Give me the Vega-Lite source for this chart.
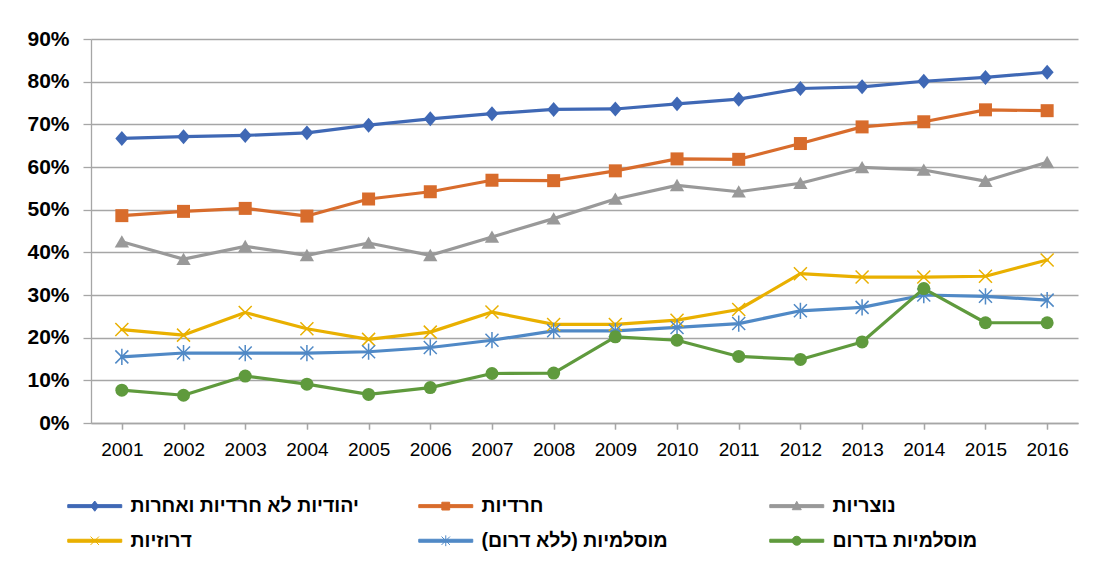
{
  "$schema": "https://vega.github.io/schema/vega-lite/v6.json",
  "width": 987,
  "height": 384,
  "autosize": {"type": "none"},
  "padding": {"left": 91, "top": 39, "right": 21, "bottom": 146},
  "background": "white",
  "data": {"values": [
    {"year":"2001","group":"יהודיות לא חרדיות ואחרות","value":66.7},
    {"year":"2002","group":"יהודיות לא חרדיות ואחרות","value":67.1},
    {"year":"2003","group":"יהודיות לא חרדיות ואחרות","value":67.4},
    {"year":"2004","group":"יהודיות לא חרדיות ואחרות","value":68.0},
    {"year":"2005","group":"יהודיות לא חרדיות ואחרות","value":69.8},
    {"year":"2006","group":"יהודיות לא חרדיות ואחרות","value":71.3},
    {"year":"2007","group":"יהודיות לא חרדיות ואחרות","value":72.5},
    {"year":"2008","group":"יהודיות לא חרדיות ואחרות","value":73.5},
    {"year":"2009","group":"יהודיות לא חרדיות ואחרות","value":73.6},
    {"year":"2010","group":"יהודיות לא חרדיות ואחרות","value":74.8},
    {"year":"2011","group":"יהודיות לא חרדיות ואחרות","value":75.9},
    {"year":"2012","group":"יהודיות לא חרדיות ואחרות","value":78.4},
    {"year":"2013","group":"יהודיות לא חרדיות ואחרות","value":78.8},
    {"year":"2014","group":"יהודיות לא חרדיות ואחרות","value":80.1},
    {"year":"2015","group":"יהודיות לא חרדיות ואחרות","value":81.0},
    {"year":"2016","group":"יהודיות לא חרדיות ואחרות","value":82.2},
    {"year":"2001","group":"חרדיות","value":48.6},
    {"year":"2002","group":"חרדיות","value":49.6},
    {"year":"2003","group":"חרדיות","value":50.3},
    {"year":"2004","group":"חרדיות","value":48.5},
    {"year":"2005","group":"חרדיות","value":52.5},
    {"year":"2006","group":"חרדיות","value":54.2},
    {"year":"2007","group":"חרדיות","value":56.9},
    {"year":"2008","group":"חרדיות","value":56.8},
    {"year":"2009","group":"חרדיות","value":59.1},
    {"year":"2010","group":"חרדיות","value":61.9},
    {"year":"2011","group":"חרדיות","value":61.8},
    {"year":"2012","group":"חרדיות","value":65.5},
    {"year":"2013","group":"חרדיות","value":69.4},
    {"year":"2014","group":"חרדיות","value":70.6},
    {"year":"2015","group":"חרדיות","value":73.4},
    {"year":"2016","group":"חרדיות","value":73.2},
    {"year":"2001","group":"נוצריות","value":42.5},
    {"year":"2002","group":"נוצריות","value":38.4},
    {"year":"2003","group":"נוצריות","value":41.4},
    {"year":"2004","group":"נוצריות","value":39.3},
    {"year":"2005","group":"נוצריות","value":42.2},
    {"year":"2006","group":"נוצריות","value":39.3},
    {"year":"2007","group":"נוצריות","value":43.6},
    {"year":"2008","group":"נוצריות","value":47.9},
    {"year":"2009","group":"נוצריות","value":52.5},
    {"year":"2010","group":"נוצריות","value":55.7},
    {"year":"2011","group":"נוצריות","value":54.2},
    {"year":"2012","group":"נוצריות","value":56.2},
    {"year":"2013","group":"נוצריות","value":59.9},
    {"year":"2014","group":"נוצריות","value":59.3},
    {"year":"2015","group":"נוצריות","value":56.7},
    {"year":"2016","group":"נוצריות","value":61.1},
    {"year":"2001","group":"דרוזיות","value":21.9},
    {"year":"2002","group":"דרוזיות","value":20.6},
    {"year":"2003","group":"דרוזיות","value":25.9},
    {"year":"2004","group":"דרוזיות","value":22.1},
    {"year":"2005","group":"דרוזיות","value":19.6},
    {"year":"2006","group":"דרוזיות","value":21.3},
    {"year":"2007","group":"דרוזיות","value":26.0},
    {"year":"2008","group":"דרוזיות","value":23.1},
    {"year":"2009","group":"דרוזיות","value":23.1},
    {"year":"2010","group":"דרוזיות","value":24.1},
    {"year":"2011","group":"דרוזיות","value":26.6},
    {"year":"2012","group":"דרוזיות","value":35.0},
    {"year":"2013","group":"דרוזיות","value":34.2},
    {"year":"2014","group":"דרוזיות","value":34.2},
    {"year":"2015","group":"דרוזיות","value":34.4},
    {"year":"2016","group":"דרוזיות","value":38.2},
    {"year":"2001","group":"מוסלמיות (ללא דרום)‏","value":15.5},
    {"year":"2002","group":"מוסלמיות (ללא דרום)‏","value":16.4},
    {"year":"2003","group":"מוסלמיות (ללא דרום)‏","value":16.4},
    {"year":"2004","group":"מוסלמיות (ללא דרום)‏","value":16.4},
    {"year":"2005","group":"מוסלמיות (ללא דרום)‏","value":16.7},
    {"year":"2006","group":"מוסלמיות (ללא דרום)‏","value":17.7},
    {"year":"2007","group":"מוסלמיות (ללא דרום)‏","value":19.4},
    {"year":"2008","group":"מוסלמיות (ללא דרום)‏","value":21.6},
    {"year":"2009","group":"מוסלמיות (ללא דרום)‏","value":21.6},
    {"year":"2010","group":"מוסלמיות (ללא דרום)‏","value":22.4},
    {"year":"2011","group":"מוסלמיות (ללא דרום)‏","value":23.3},
    {"year":"2012","group":"מוסלמיות (ללא דרום)‏","value":26.3},
    {"year":"2013","group":"מוסלמיות (ללא דרום)‏","value":27.1},
    {"year":"2014","group":"מוסלמיות (ללא דרום)‏","value":30.0},
    {"year":"2015","group":"מוסלמיות (ללא דרום)‏","value":29.7},
    {"year":"2016","group":"מוסלמיות (ללא דרום)‏","value":28.8},
    {"year":"2001","group":"מוסלמיות בדרום","value":7.7},
    {"year":"2002","group":"מוסלמיות בדרום","value":6.5},
    {"year":"2003","group":"מוסלמיות בדרום","value":11.0},
    {"year":"2004","group":"מוסלמיות בדרום","value":9.1},
    {"year":"2005","group":"מוסלמיות בדרום","value":6.7},
    {"year":"2006","group":"מוסלמיות בדרום","value":8.3},
    {"year":"2007","group":"מוסלמיות בדרום","value":11.6},
    {"year":"2008","group":"מוסלמיות בדרום","value":11.7},
    {"year":"2009","group":"מוסלמיות בדרום","value":20.2},
    {"year":"2010","group":"מוסלמיות בדרום","value":19.4},
    {"year":"2011","group":"מוסלמיות בדרום","value":15.6},
    {"year":"2012","group":"מוסלמיות בדרום","value":14.9},
    {"year":"2013","group":"מוסלמיות בדרום","value":19.0},
    {"year":"2014","group":"מוסלמיות בדרום","value":31.5},
    {"year":"2015","group":"מוסלמיות בדרום","value":23.5},
    {"year":"2016","group":"מוסלמיות בדרום","value":23.5}
  ]},
  "encoding": {
    "y": {
      "field": "value", "type": "quantitative",
      "scale": {"domain": [0, 90], "nice": false, "zero": true},
      "axis": {
        "title": null, "values": [0,10,20,30,40,50,60,70,80,90],
        "labelExpr": "datum.value + '%'",
        "grid": true, "gridColor": "#a6a6a6", "gridWidth": 1.3,
        "domain": true, "domainColor": "#a6a6a6", "domainWidth": 1.3,
        "ticks": true, "tickColor": "#a6a6a6", "tickSize": 8, "tickWidth": 1.3,
        "labelFont": "Liberation Sans", "labelFontSize": 21, "labelFontWeight": "bold",
        "labelColor": "#000000", "labelPadding": 14
      }
    },
    "color": {
      "field": "group", "type": "nominal",
      "scale": {
        "domain": ["יהודיות לא חרדיות ואחרות","חרדיות","נוצריות","דרוזיות","מוסלמיות (ללא דרום)‏","מוסלמיות בדרום"],
        "range": ["#3F68B5","#D86C2C","#999999","#E9B000","#5089C6","#5F9A3D"]
      },
      "legend": {
        "title": null, "orient": "none", "legendX": -27, "legendY": 457,
        "direction": "horizontal",
        "columns": 3, "gridAlign": "all", "columnPadding": 56, "rowPadding": 14,
        "labelFont": "Liberation Sans", "labelFontSize": 19.5, "labelFontWeight": "bold",
        "labelColor": "#000000", "labelLimit": 400, "labelOffset": 26,
        "symbolSize": 144, "symbolStrokeWidth": 1, "symbolOffset": 21,
        "encode": {
          "symbols": {
            "update": {
              "shape": {"signal": "['M-4.5,-0.25H4.5V0.25H-4.5Z M0,-0.85L0.65,0L0,0.85L-0.65,0Z', 'M-4.5,-0.25H4.5V0.25H-4.5Z M-0.65,-0.65H0.65V0.65H-0.65Z', 'M-4.5,-0.25H4.5V0.25H-4.5Z M0,-0.8L0.75,0.6L-0.75,0.6Z', 'M-4.5,-0.25H4.5V0.25H-4.5Z M-0.7,-0.7L0.7,0.7M-0.7,0.7L0.7,-0.7', 'M-4.5,-0.25H4.5V0.25H-4.5Z M-0.7,-0.7L0.7,0.7M-0.7,0.7L0.7,-0.7M0,-0.9V0.9', 'M-4.5,-0.25H4.5V0.25H-4.5Z M0.75,0A0.75,0.75,0,1,1,-0.75,0A0.75,0.75,0,1,1,0.75,0Z'][datum.index]"},
              "fill": {"signal": "scale('color', datum.value)"},
              "stroke": {"signal": "scale('color', datum.value)"},
              "strokeWidth": {"value": 1},
              "opacity": {"value": 1},
              "size": {"value": 144}
            }
          }
        }
      }
    }
  },
  "layer": [
    {
      "mark": {"type": "line", "strokeWidth": 3.2, "strokeJoin": "round", "strokeCap": "round"},
      "encoding": {
        "x": {
          "field": "year", "type": "ordinal",
          "scale": {"paddingInner": 0, "paddingOuter": 0},
          "axis": {
            "title": null, "orient": "bottom", "labelAngle": 0,
            "ticks": false, "grid": false,
            "domain": true, "domainColor": "#a6a6a6", "domainWidth": 1.3,
            "labelFont": "Liberation Sans", "labelFontSize": 19, "labelColor": "#000000",
            "labelPadding": 17
          }
        }
      }
    },
    {
      "transform": [{"filter": {"field": "group", "equal": "יהודיות לא חרדיות ואחרות"}}],
      "mark": {"type": "point", "filled": true, "opacity": 1, "size": 169, "shape": "M0,-1.15L1,0L0,1.15L-1,0Z"},
      "encoding": {
        "x": {
          "field": "year", "type": "ordinal",
          "axis": {
            "title": null, "orient": "bottom", "labels": false, "domain": false, "grid": false,
            "ticks": true, "bandPosition": 0, "tickSize": 6, "tickColor": "#a6a6a6", "tickWidth": 1.3
          }
        }
      }
    },
    {
      "transform": [{"filter": {"field": "group", "equal": "חרדיות"}}],
      "mark": {"type": "point", "filled": true, "opacity": 1, "size": 169, "shape": "square"},
      "encoding": {
        "x": {
          "field": "year", "type": "ordinal",
          "axis": {
            "title": null, "orient": "bottom", "labels": false, "domain": false, "grid": false,
            "ticks": true, "bandPosition": 1, "tickSize": 6, "tickColor": "#a6a6a6", "tickWidth": 1.3
          }
        }
      }
    },
    {
      "transform": [{"filter": {"field": "group", "equal": "נוצריות"}}],
      "mark": {"type": "point", "filled": true, "opacity": 1, "size": 169, "shape": "M0,-1L1.1,0.9L-1.1,0.9Z"},
      "encoding": {"x": {"field": "year", "type": "ordinal", "axis": null}}
    },
    {
      "transform": [{"filter": {"field": "group", "equal": "דרוזיות"}}],
      "mark": {"type": "point", "filled": false, "opacity": 1, "size": 169, "strokeWidth": 1.5, "shape": "M-1,-1L1,1M-1,1L1,-1"},
      "encoding": {"x": {"field": "year", "type": "ordinal", "axis": null}}
    },
    {
      "transform": [{"filter": {"field": "group", "equal": "מוסלמיות (ללא דרום)‏"}}],
      "mark": {"type": "point", "filled": false, "opacity": 1, "size": 169, "strokeWidth": 1.5, "shape": "M-1,-1L1,1M-1,1L1,-1M0,-1.25V1.25"},
      "encoding": {"x": {"field": "year", "type": "ordinal", "axis": null}}
    },
    {
      "transform": [{"filter": {"field": "group", "equal": "מוסלמיות בדרום"}}],
      "mark": {"type": "point", "filled": true, "opacity": 1, "size": 169, "shape": "circle"},
      "encoding": {"x": {"field": "year", "type": "ordinal", "axis": null}}
    }
  ],
  "resolve": {"axis": {"x": "independent"}},
  "config": {"view": {"stroke": null}}
}
